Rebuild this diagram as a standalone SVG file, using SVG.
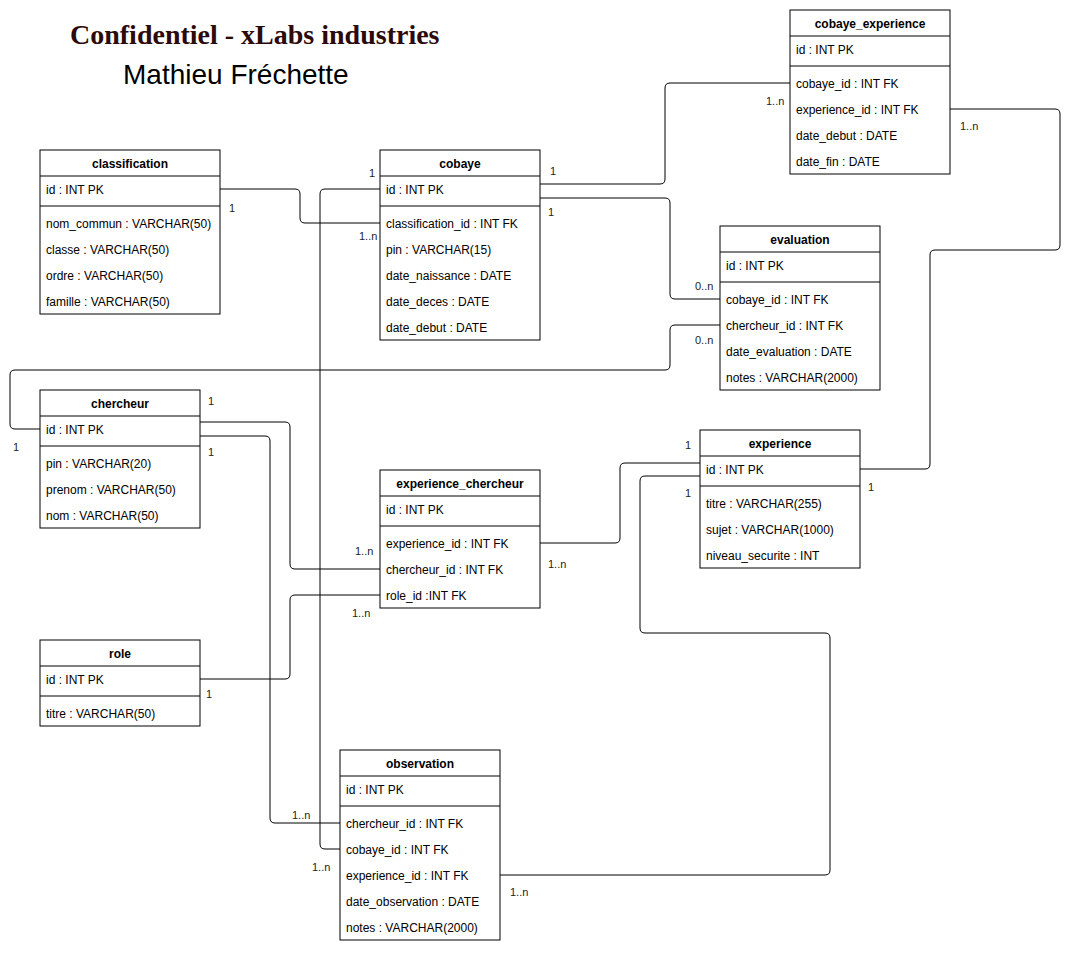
<svg xmlns="http://www.w3.org/2000/svg" width="1073" height="954" viewBox="0 0 1073 954">
<style>
.box{fill:#fff;stroke:#000;stroke-width:1}
.ln{stroke:#000;stroke-width:1}
.t{font-family:"Liberation Sans",Arial,sans-serif;font-size:12px;fill:#000}
.h{font-family:"Liberation Sans",Arial,sans-serif;font-size:12px;font-weight:bold;fill:#000;text-anchor:middle}
.lb{font-family:"Liberation Sans",Arial,sans-serif;font-size:11px;fill:#222}
.e{fill:none;stroke:#000;stroke-width:1}
</style>
<rect width="1073" height="954" fill="#fff"/>
<text x="70" y="44" style="font-family:'Liberation Serif','Times New Roman',serif;font-size:28px;font-weight:bold;fill:#2d0a0a">Confidentiel - xLabs industries</text>
<text x="123" y="84" style="font-family:'Liberation Sans',Arial,sans-serif;font-size:28px;fill:#000">Mathieu Fréchette</text>

<g id="connectors">
<path class="e" d="M220,189 H295 Q300,189 300,194 V218 Q300,223 305,223 H380"/>
<path class="e" d="M380,189 H325 Q320,189 320,194 V844 Q320,849 325,849 H340"/>
<path class="e" d="M540,184 H660 Q665,184 665,179 V88 Q665,83 670,83 H790"/>
<path class="e" d="M540,198 H665 Q670,198 670,203 V294 Q670,299 675,299 H720"/>
<path class="e" d="M720,325 H675 Q670,325 670,330 V365 Q670,370 665,370 H15 Q10,370 10,375 V424 Q10,429 15,429 H40"/>
<path class="e" d="M200,422 H285 Q290,422 290,427 V564 Q290,569 295,569 H380"/>
<path class="e" d="M200,436 H265 Q270,436 270,441 V818 Q270,823 275,823 H340"/>
<path class="e" d="M380,595 H295 Q290,595 290,600 V674 Q290,679 285,679 H200"/>
<path class="e" d="M540,543 H615 Q620,543 620,538 V468 Q620,463 625,463 H700"/>
<path class="e" d="M700,476 H645 Q640,476 640,481 V628 Q640,633 645,633 H825 Q830,633 830,638 V870 Q830,875 825,875 H500"/>
<path class="e" d="M950,109 H1055 Q1060,109 1060,114 V245 Q1060,250 1055,250 H935 Q930,250 930,255 V464 Q930,469 925,469 H860"/>
<text class="lb" x="766" y="105">1..n</text>
<text class="lb" x="960" y="130">1..n</text>
<text class="lb" x="550" y="175">1</text>
<text class="lb" x="548" y="216">1</text>
<text class="lb" x="369" y="177">1</text>
<text class="lb" x="359" y="240">1..n</text>
<text class="lb" x="229" y="212">1</text>
<text class="lb" x="695" y="290">0..n</text>
<text class="lb" x="695" y="344">0..n</text>
<text class="lb" x="208" y="405">1</text>
<text class="lb" x="208" y="456">1</text>
<text class="lb" x="13" y="451">1</text>
<text class="lb" x="355" y="555">1..n</text>
<text class="lb" x="548" y="568">1..n</text>
<text class="lb" x="685" y="449">1</text>
<text class="lb" x="685" y="497">1</text>
<text class="lb" x="868" y="491">1</text>
<text class="lb" x="352" y="617">1..n</text>
<text class="lb" x="206" y="698">1</text>
<text class="lb" x="292" y="819">1..n</text>
<text class="lb" x="312" y="871">1..n</text>
<text class="lb" x="510" y="896">1..n</text>
</g>

<g id="cobaye_experience">
<rect class="box" x="790" y="10" width="160" height="164"/>
<line class="ln" x1="790" y1="36" x2="950" y2="36"/>
<line class="ln" x1="790" y1="66" x2="950" y2="66"/>
<text class="h" x="870" y="28">cobaye_experience</text>
<text class="t" x="796" y="54">id : INT PK</text>
<text class="t" x="796" y="88">cobaye_id : INT FK</text>
<text class="t" x="796" y="114">experience_id : INT FK</text>
<text class="t" x="796" y="140">date_debut : DATE</text>
<text class="t" x="796" y="166">date_fin : DATE</text>
</g>

<g id="classification">
<rect class="box" x="40" y="150" width="180" height="164"/>
<line class="ln" x1="40" y1="176" x2="220" y2="176"/>
<line class="ln" x1="40" y1="206" x2="220" y2="206"/>
<text class="h" x="130" y="168">classification</text>
<text class="t" x="46" y="194">id : INT PK</text>
<text class="t" x="46" y="228">nom_commun : VARCHAR(50)</text>
<text class="t" x="46" y="254">classe : VARCHAR(50)</text>
<text class="t" x="46" y="280">ordre : VARCHAR(50)</text>
<text class="t" x="46" y="306">famille : VARCHAR(50)</text>
</g>

<g id="cobaye">
<rect class="box" x="380" y="150" width="160" height="190"/>
<line class="ln" x1="380" y1="176" x2="540" y2="176"/>
<line class="ln" x1="380" y1="206" x2="540" y2="206"/>
<text class="h" x="460" y="168">cobaye</text>
<text class="t" x="386" y="194">id : INT PK</text>
<text class="t" x="386" y="228">classification_id : INT FK</text>
<text class="t" x="386" y="254">pin : VARCHAR(15)</text>
<text class="t" x="386" y="280">date_naissance : DATE</text>
<text class="t" x="386" y="306">date_deces : DATE</text>
<text class="t" x="386" y="332">date_debut : DATE</text>
</g>

<g id="evaluation">
<rect class="box" x="720" y="226" width="160" height="164"/>
<line class="ln" x1="720" y1="252" x2="880" y2="252"/>
<line class="ln" x1="720" y1="282" x2="880" y2="282"/>
<text class="h" x="800" y="244">evaluation</text>
<text class="t" x="726" y="270">id : INT PK</text>
<text class="t" x="726" y="304">cobaye_id : INT FK</text>
<text class="t" x="726" y="330">chercheur_id : INT FK</text>
<text class="t" x="726" y="356">date_evaluation : DATE</text>
<text class="t" x="726" y="382">notes : VARCHAR(2000)</text>
</g>

<g id="chercheur">
<rect class="box" x="40" y="390" width="160" height="138"/>
<line class="ln" x1="40" y1="416" x2="200" y2="416"/>
<line class="ln" x1="40" y1="446" x2="200" y2="446"/>
<text class="h" x="120" y="408">chercheur</text>
<text class="t" x="46" y="434">id : INT PK</text>
<text class="t" x="46" y="468">pin : VARCHAR(20)</text>
<text class="t" x="46" y="494">prenom : VARCHAR(50)</text>
<text class="t" x="46" y="520">nom : VARCHAR(50)</text>
</g>

<g id="experience">
<rect class="box" x="700" y="430" width="160" height="138"/>
<line class="ln" x1="700" y1="456" x2="860" y2="456"/>
<line class="ln" x1="700" y1="486" x2="860" y2="486"/>
<text class="h" x="780" y="448">experience</text>
<text class="t" x="706" y="474">id : INT PK</text>
<text class="t" x="706" y="508">titre : VARCHAR(255)</text>
<text class="t" x="706" y="534">sujet : VARCHAR(1000)</text>
<text class="t" x="706" y="560">niveau_securite : INT</text>
</g>

<g id="experience_chercheur">
<rect class="box" x="380" y="470" width="160" height="138"/>
<line class="ln" x1="380" y1="496" x2="540" y2="496"/>
<line class="ln" x1="380" y1="526" x2="540" y2="526"/>
<text class="h" x="460" y="488">experience_chercheur</text>
<text class="t" x="386" y="514">id : INT PK</text>
<text class="t" x="386" y="548">experience_id : INT FK</text>
<text class="t" x="386" y="574">chercheur_id : INT FK</text>
<text class="t" x="386" y="600">role_id :INT FK</text>
</g>

<g id="role">
<rect class="box" x="40" y="640" width="160" height="86"/>
<line class="ln" x1="40" y1="666" x2="200" y2="666"/>
<line class="ln" x1="40" y1="696" x2="200" y2="696"/>
<text class="h" x="120" y="658">role</text>
<text class="t" x="46" y="684">id : INT PK</text>
<text class="t" x="46" y="718">titre : VARCHAR(50)</text>
</g>

<g id="observation">
<rect class="box" x="340" y="750" width="160" height="190"/>
<line class="ln" x1="340" y1="776" x2="500" y2="776"/>
<line class="ln" x1="340" y1="806" x2="500" y2="806"/>
<text class="h" x="420" y="768">observation</text>
<text class="t" x="346" y="794">id : INT PK</text>
<text class="t" x="346" y="828">chercheur_id : INT FK</text>
<text class="t" x="346" y="854">cobaye_id : INT FK</text>
<text class="t" x="346" y="880">experience_id : INT FK</text>
<text class="t" x="346" y="906">date_observation : DATE</text>
<text class="t" x="346" y="932">notes : VARCHAR(2000)</text>
</g>
</svg>
